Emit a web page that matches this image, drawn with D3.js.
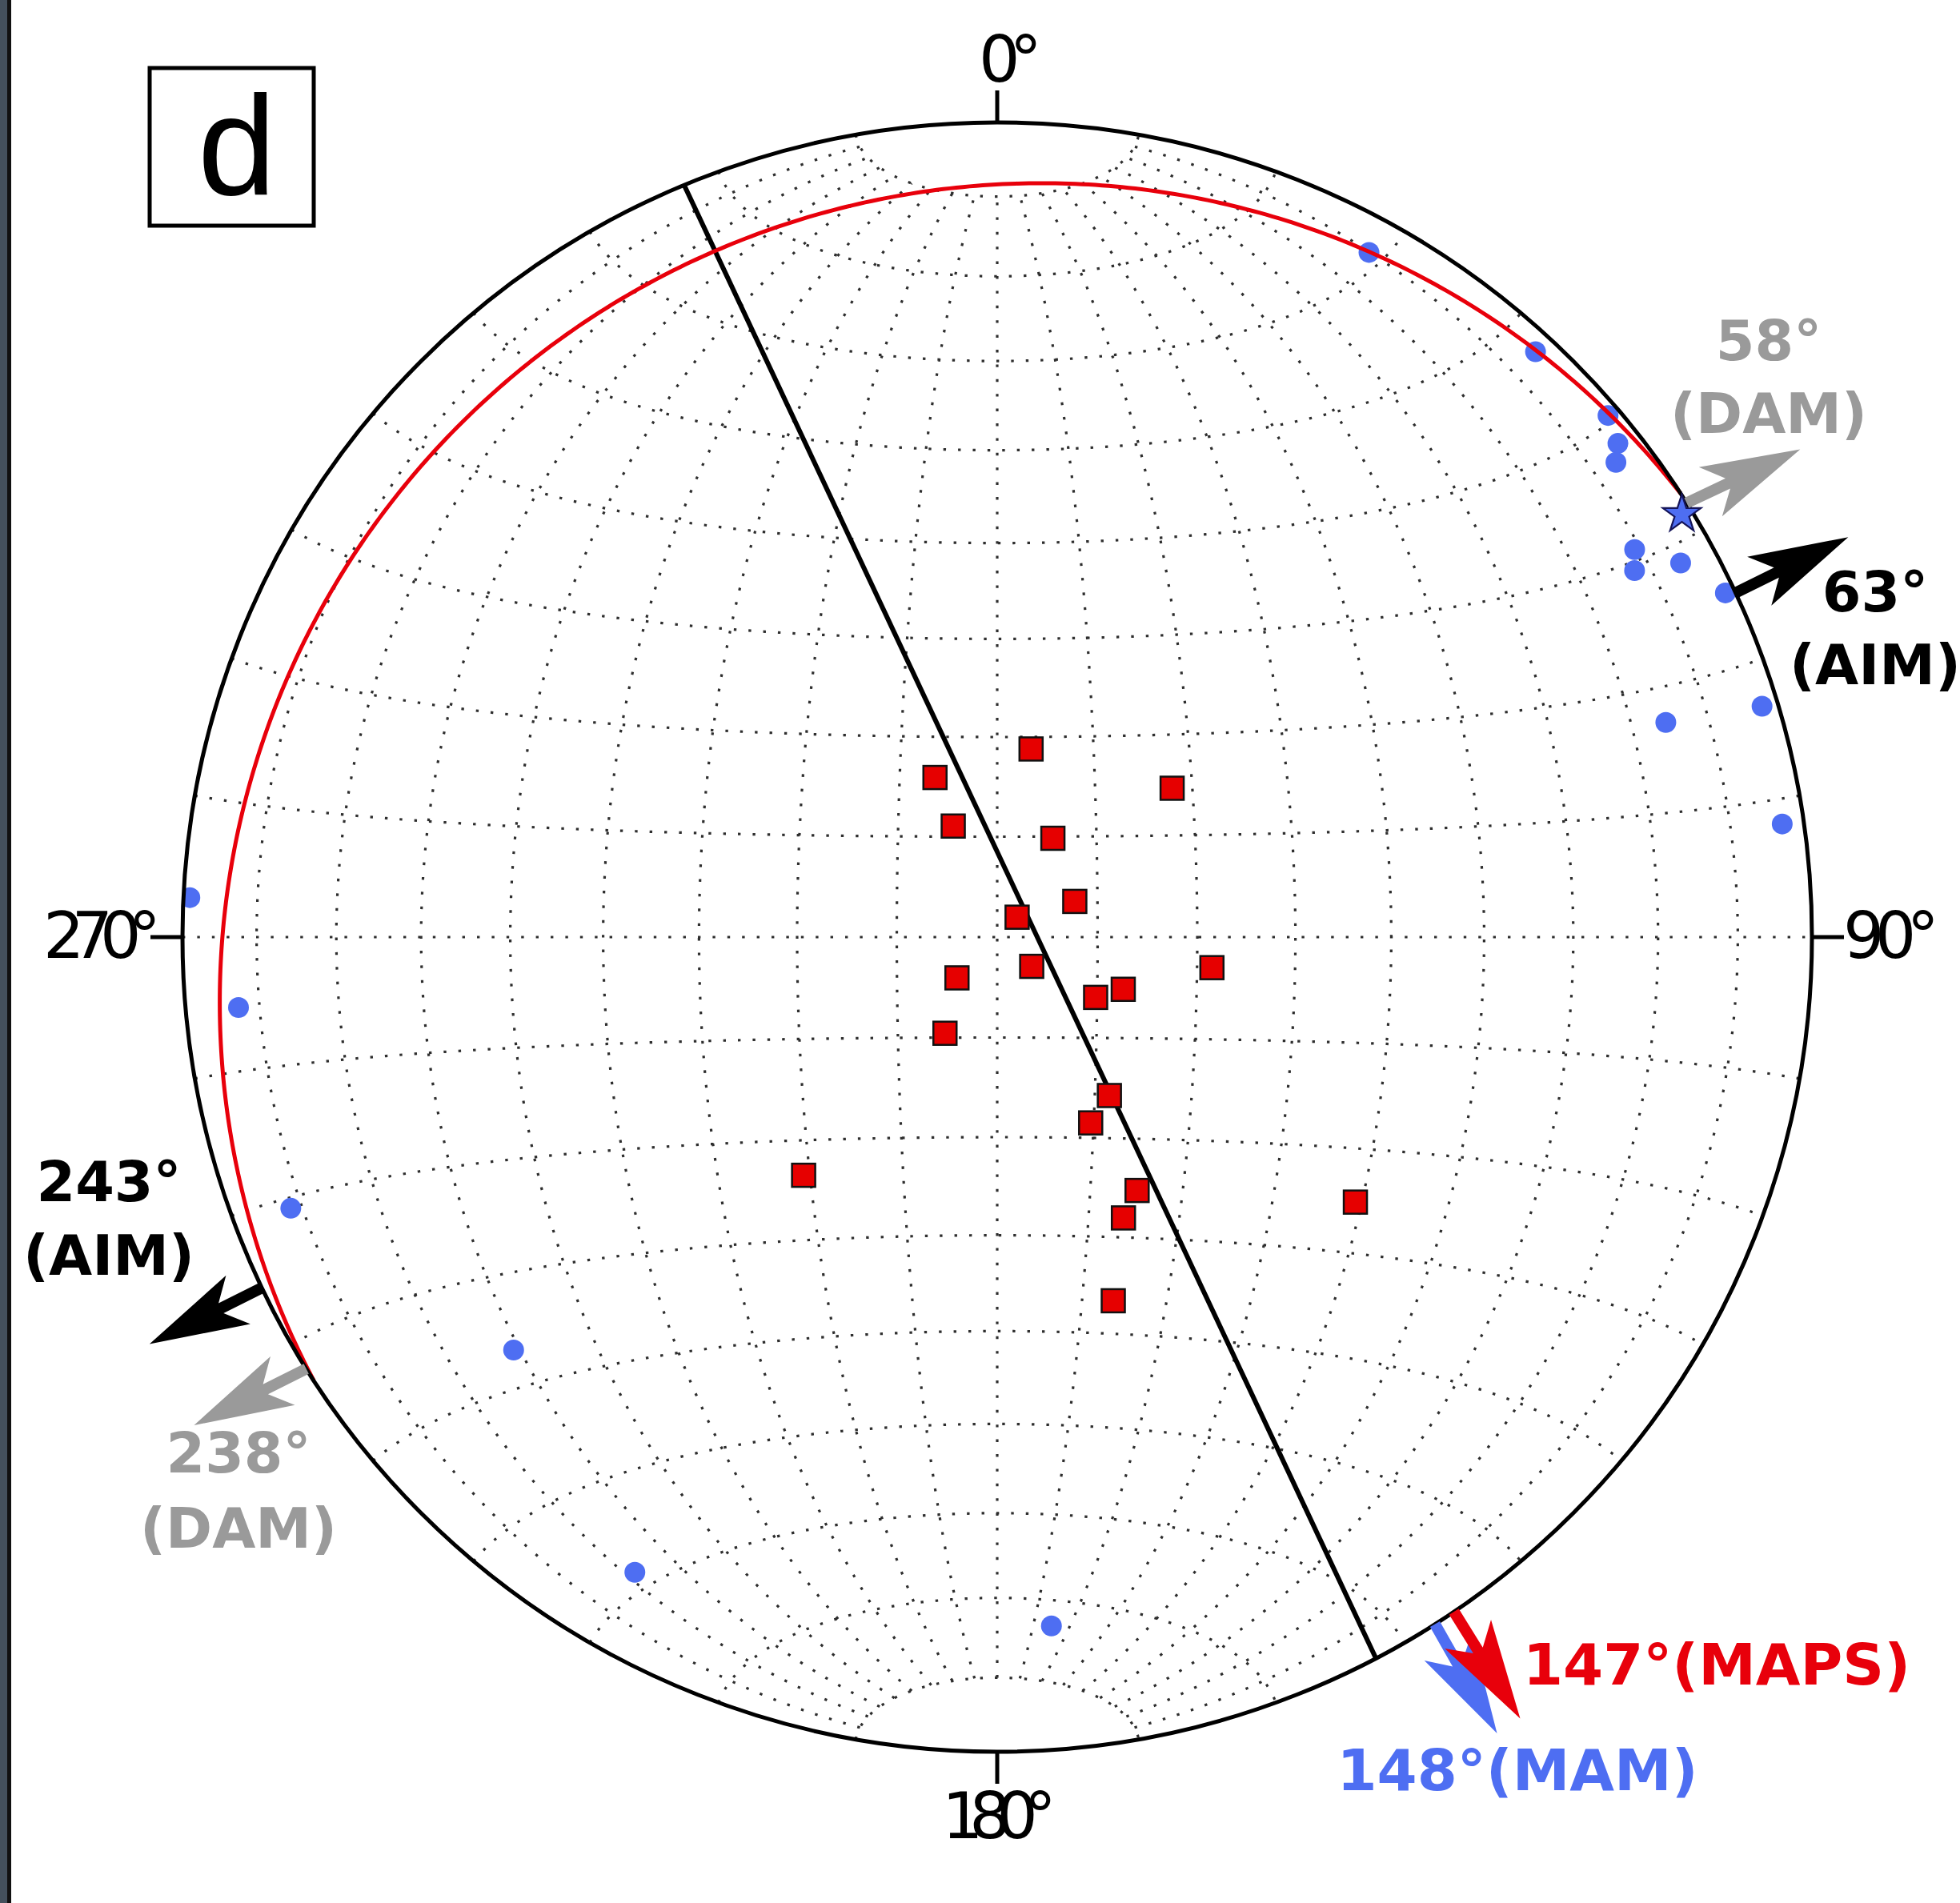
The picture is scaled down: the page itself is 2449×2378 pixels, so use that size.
<!DOCTYPE html>
<html><head><meta charset="utf-8">
<script src="https://cdn.jsdelivr.net/npm/d3@7"></script>
<style>html,body{margin:0;padding:0;background:#fff;} svg{display:block;}</style>
</head><body>
<svg id="chart" width="2449" height="2378"></svg>
<script>
// ---------------- data (trend / plunge in degrees, lower hemisphere) ----------------
const squareTrend  = [10.2, 338.7, 49.6, 338.4, 29.4, 65.3, 45.0, 130.3, 224.6, 98.1, 121.5, 112.5, 208.5, 144.7, 153.3, 219.1, 151.1, 155.8, 126.5, 162.3];
const squarePlunge = [70.9, 72.9, 67.0, 78.1, 78.7, 81.5, 87.2, 85.5, 84.3, 68.3, 78.5, 76.4, 79.1, 70.6, 69.2, 59.1, 60.9, 59.0, 44.5, 51.3];
const dotTrend  = [28.5, 42.6, 49.5, 51.5, 52.5, 58.7, 60.1, 61.3, 64.7, 73.2, 72.2, 81.8, 272.8, 264.7, 249.0, 229.5, 209.7, 175.5];
const dotPlunge = [4.9, 2.7, 1.6, 3.0, 4.8, 9.3, 10.7, 4.9, 1.3, 2.2, 14.9, 3.0, 0.9, 7.2, 7.9, 23.0, 11.2, 16.3];
const starTrend = [58.3];
const starPlunge = [1.4];
const planeDipDirection = [327];
const planeDip = [10];
const chordAzimuths = [337.4, 152.3];
const tickAzimuths = [0, 90, 180, 270];
const tickLabels = ["0°", "90°", "180°", "270°"];
const arrowMethods = ["DAM", "AIM", "DAM", "AIM", "MAM", "MAPS"];
const arrowLabels  = [["58°", "(DAM)"], ["63°", "(AIM)"], ["238°", "(DAM)"], ["243°", "(AIM)"], ["148°(MAM)"], ["147°(MAPS)"]];
const arrowStart   = [57.8, 65.0, 238.0, 244.5, 147.5, 145.9];
const arrowDir     = [64.7, 63.7, 243.3, 243.4, 150.4, 148.2];
const panelLabel = "d";

// ---------------- layout / style ----------------
const W = 2449, H = 2378, cx = 1246, cy = 1171, R = 1018;
const methodColor = {DAM: "#9a9a9a", AIM: "#000000", MAM: "#4e6ef2", MAPS: "#e8000b"};
const tickLabelPos = [
  {x: 1223, y: 102, len: 79},
  {x: 2303, y: 1197, len: 120},
  {x: 1177, y: 2297, len: 143},
  {x: 54, y: 1197, len: 147}
];
const arrowLabelPos = [
  {x: 2210, y: [450, 541], size: 70},
  {x: 2343, y: [764, 855], size: 70},
  {x: 298, y: [1840, 1934], size: 70},
  {x: 136, y: [1501, 1593], size: 70},
  {x: 1896, y: [2237], size: 72},
  {x: 2145, y: [2105], size: 72}
];

const svg = d3.select("#chart");
svg.append("rect").attr("width", W).attr("height", H).attr("fill", "#fff");
// neighbouring panel strip on the far left
svg.append("rect").attr("x", 0).attr("y", 0).attr("width", 9).attr("height", H).attr("fill", "#44505c");
svg.append("rect").attr("x", 9).attr("y", 0).attr("width", 5).attr("height", H).attr("fill", "#111");

const rad = Math.PI / 180;
const proj = d3.geoAzimuthalEqualArea().rotate([0, 0]).scale(R / Math.SQRT2).translate([cx, cy]).precision(0.1);
const path = d3.geoPath(proj);

// convert an (east, north, up) vector to geographic coords of the net frame
function vecToGeo(v) {
  const X = -v[2], Y = v[0], Z = v[1];
  const n = Math.hypot(X, Y, Z);
  return [Math.atan2(Y, X) / rad, Math.asin(Math.max(-1, Math.min(1, Z / n))) / rad];
}
function lineVec(t, p) {
  return [Math.sin(t * rad) * Math.cos(p * rad), Math.cos(t * rad) * Math.cos(p * rad), -Math.sin(p * rad)];
}
const P = (t, p) => proj(vecToGeo(lineVec(t, p)));

// ---------------- grid (10° equal-area net, meridians capped at 80°) ----------------
const gridLines = [];
for (let lon = -80; lon <= 80; lon += 10) gridLines.push(d3.range(-80, 80.01, 1).map(lat => [lon, lat]));
for (let lat = -80; lat <= 80; lat += 10) gridLines.push(d3.range(-90, 90.01, 1).map(lon => [lon, lat]));
svg.append("path")
  .datum({type: "MultiLineString", coordinates: gridLines})
  .attr("d", path)
  .attr("fill", "none").attr("stroke", "#2e2e2e").attr("stroke-width", 3.2)
  .attr("stroke-dasharray", "3.4 15");

const rPrim = proj([90, 0])[0] - cx;
svg.append("clipPath").attr("id", "prim").append("circle").attr("cx", cx).attr("cy", cy).attr("r", rPrim);

// ---------------- chord line ----------------
const c0 = P(chordAzimuths[0], 0), c1 = P(chordAzimuths[1], 0);
svg.append("line").attr("x1", c0[0]).attr("y1", c0[1]).attr("x2", c1[0]).attr("y2", c1[1])
  .attr("stroke", "#000").attr("stroke-width", 6);

// ---------------- blue poles ----------------
const gData = svg.append("g").attr("clip-path", "url(#prim)");
gData.selectAll("circle.dot").data(d3.range(dotTrend.length)).join("circle")
  .attr("class", "dot")
  .attr("cx", i => P(dotTrend[i], dotPlunge[i])[0])
  .attr("cy", i => P(dotTrend[i], dotPlunge[i])[1])
  .attr("r", 13).attr("fill", methodColor.MAM);

// ---------------- red great circle ----------------
const dd = planeDipDirection[0], dip = planeDip[0];
const sVec = [Math.sin((dd - 90) * rad), Math.cos((dd - 90) * rad), 0];
const dVec = lineVec(dd, dip);
const gcPts = d3.range(0, 180.01, 0.5).map(t => {
  const a = t * rad;
  const v = [0, 1, 2].map(k => Math.cos(a) * sVec[k] + Math.sin(a) * dVec[k]);
  return proj(vecToGeo(v));
});
svg.append("path").attr("d", d3.line()(gcPts))
  .attr("fill", "none").attr("stroke", "#e8000b").attr("stroke-width", 5);

// ---------------- red squares ----------------
const sq = 29;
svg.selectAll("rect.sq").data(d3.range(squareTrend.length)).join("rect")
  .attr("class", "sq")
  .attr("x", i => P(squareTrend[i], squarePlunge[i])[0] - sq / 2)
  .attr("y", i => P(squareTrend[i], squarePlunge[i])[1] - sq / 2)
  .attr("width", sq).attr("height", sq)
  .attr("fill", "#e60000").attr("stroke", "#111").attr("stroke-width", 2.5);

// ---------------- primitive circle and ticks ----------------
svg.append("circle").attr("cx", cx).attr("cy", cy).attr("r", rPrim)
  .attr("fill", "none").attr("stroke", "#000").attr("stroke-width", 5);
tickAzimuths.forEach((a, i) => {
  const p = P(a, 0);
  const ux = Math.sin(a * rad), uy = -Math.cos(a * rad);
  svg.append("line").attr("x1", p[0]).attr("y1", p[1]).attr("x2", p[0] + 40 * ux).attr("y2", p[1] + 40 * uy)
    .attr("stroke", "#000").attr("stroke-width", 5);
  const lp = tickLabelPos[i];
  svg.append("text").attr("x", lp.x).attr("y", lp.y)
    .attr("font-family", "DejaVu Sans").attr("font-size", 81)
    .attr("textLength", lp.len).attr("lengthAdjust", "spacing")
    .attr("fill", "#000").text(tickLabels[i]);
});

// ---------------- star ----------------
const sp = P(starTrend[0], starPlunge[0]);
svg.append("path").attr("d", d3.symbol(d3.symbolStar).size(25 * 25 / 0.8908130915292852)())
  .attr("transform", `translate(${sp[0]},${sp[1]})`)
  .attr("fill", methodColor.MAM).attr("stroke", "#15155a").attr("stroke-width", 2.2);

// ---------------- arrows ----------------
const L = 157;
const shape = [[0, -7], [57, -7], [33, -34], [L, 0], [33, 34], [57, 7], [0, 7]];
arrowStart.forEach((a, i) => {
  const s = P(a, 0);
  const d = arrowDir[i] * rad;
  const u = [Math.sin(d), -Math.cos(d)], n = [Math.cos(d), Math.sin(d)];
  const pts = shape.map(([p, q]) => [s[0] + p * u[0] + q * n[0], s[1] + p * u[1] + q * n[1]]);
  svg.append("path").attr("d", d3.line()(pts) + "Z").attr("fill", methodColor[arrowMethods[i]]);
  const lp = arrowLabelPos[i];
  arrowLabels[i].forEach((t, k) => {
    svg.append("text").attr("x", lp.x).attr("y", lp.y[k])
      .attr("text-anchor", "middle").attr("font-family", "DejaVu Sans").attr("font-weight", "bold")
      .attr("font-size", lp.size).attr("fill", methodColor[arrowMethods[i]]).text(t);
  });
});

// ---------------- panel label ----------------
svg.append("rect").attr("x", 187).attr("y", 85).attr("width", 205).attr("height", 197)
  .attr("fill", "#fff").attr("stroke", "#000").attr("stroke-width", 5);
svg.append("text").attr("x", 296).attr("y", 243).attr("text-anchor", "middle")
  .attr("font-family", "Liberation Sans, Arial").attr("font-size", 176).attr("fill", "#000").text(panelLabel);
</script>
</body></html>
